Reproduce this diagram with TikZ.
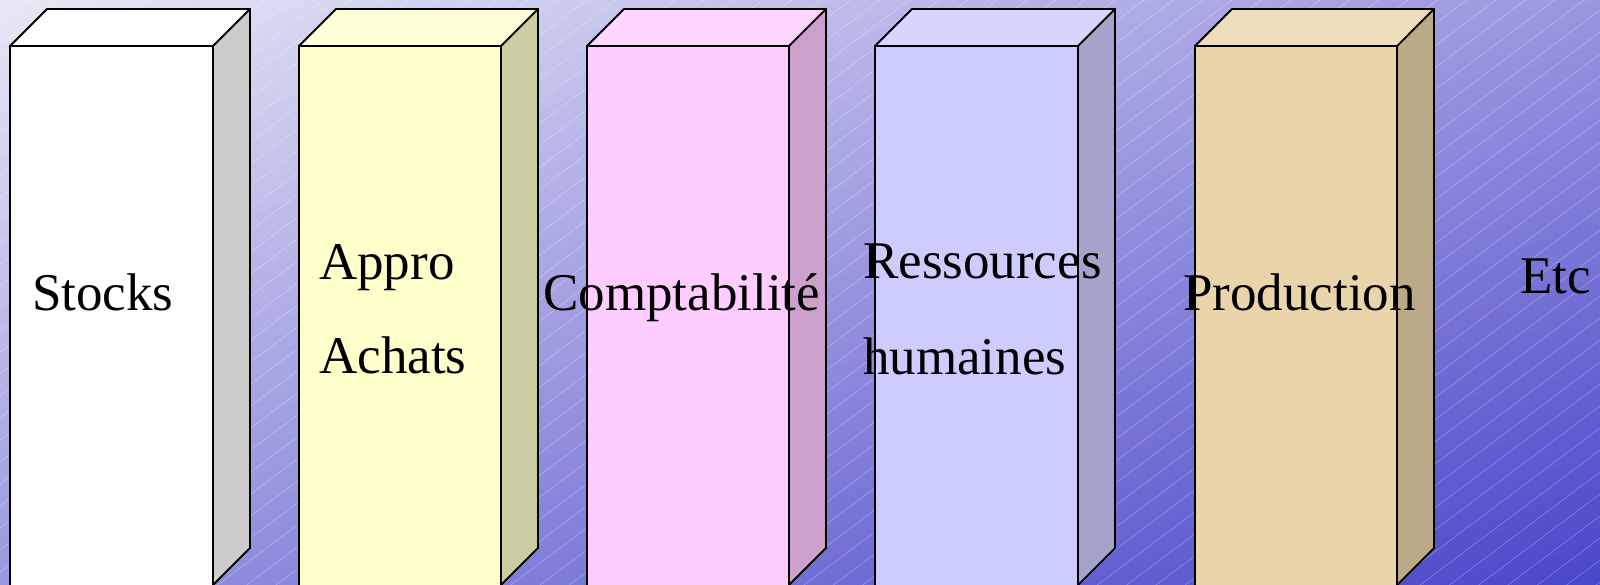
\documentclass[tikz,border=0pt]{standalone}
\usepackage{fontspec}
\setmainfont{Liberation Serif}
\definecolor{bgA}{HTML}{E8E8F5}
\definecolor{bgB}{HTML}{4A46CA}
\definecolor{fA}{HTML}{FFFFFF}\definecolor{tA}{HTML}{FFFFFF}\definecolor{sA}{HTML}{CCCCCC}
\definecolor{fB}{HTML}{FFFFCC}\definecolor{tB}{HTML}{FFFFD8}\definecolor{sB}{HTML}{CCCCA2}
\definecolor{fC}{HTML}{FFCCFF}\definecolor{tC}{HTML}{FFD6FF}\definecolor{sC}{HTML}{CCA2CC}
\definecolor{fD}{HTML}{CCCCFF}\definecolor{tD}{HTML}{D6D6FF}\definecolor{sD}{HTML}{A3A3CC}
\definecolor{fE}{HTML}{EAD4AA}\definecolor{tE}{HTML}{EEDDBC}\definecolor{sE}{HTML}{BBAA88}
\begin{document}
\begin{tikzpicture}[x=1pt,y=-1pt,
  edge/.style={draw=black,line width=1.8pt,line join=miter},
  lbl/.style={anchor=base west,inner sep=0pt,font=\fontsize{53}{60}\selectfont,text=black},
  hatch/.style={draw=white,line width=0.6pt,opacity=0.28}]
\useasboundingbox (0,0) rectangle (1600,584);
\begin{scope}
\clip (0,0) rectangle (1600,584);
% diagonal gradient background
\foreach \i in {0,...,79}{
  \pgfmathsetmacro{\sa}{2*\i/80}
  \pgfmathsetmacro{\sb}{2*(\i+1)/80+0.004}
  \pgfmathsetmacro{\pc}{100-100*(\i+0.5)/80}
  \fill[bgA!\pc!bgB] ({1600*(\sa+1)},-584) -- ({1600*(\sa-2)},1168) -- ({1600*(\sb-2)},1168) -- ({1600*(\sb+1)},-584) -- cycle;
}
% hatch lines
\foreach \c in {0,22,...,1800}{
  \draw[hatch] (0,\c) -- (1600,\c-1200);
}
% cuboids
\foreach \L/\R/\cf/\ct/\cs in {10/213/fA/tA/sA, 299/501/fB/tB/sB, 587/789/fC/tC/sC, 875/1078/fD/tD/sD, 1195/1397/fE/tE/sE}{
  \fill[\cf] (\L,46) rectangle (\R,592);
  \fill[\ct] (\L,46) -- (\L+37,9) -- (\R+37,9) -- (\R,46) -- cycle;
  \fill[\cs] (\R,46) -- (\R+37,9) -- (\R+37,548) -- (\R,585) -- cycle;
  \draw[edge] (\L,592) -- (\L,46) -- (\L+37,9) -- (\R+37,9) -- (\R+37,548) -- (\R,585) -- (\R,592);
  \draw[edge] (\L,46) -- (\R,46) -- (\R+37,9);
  \draw[edge] (\R,46) -- (\R,592);
}
\end{scope}
% labels
\node[lbl] (stocks) at (32,310) {Stocks};
\node[lbl] (appro) at (319,279) {Appro};
\node[lbl] (achats) at (319,373) {Achats};
\node[lbl] (compta) at (543,310) {Comptabilité};
\node[lbl] (ress) at (863,278) {Ressources};
\node[lbl] (hum) at (863,374) {humaines};
\node[lbl] (prod) at (1183,310) {Production};
\node[lbl] (etc) at (1520,293) {Etc};
\end{tikzpicture}
\end{document}
